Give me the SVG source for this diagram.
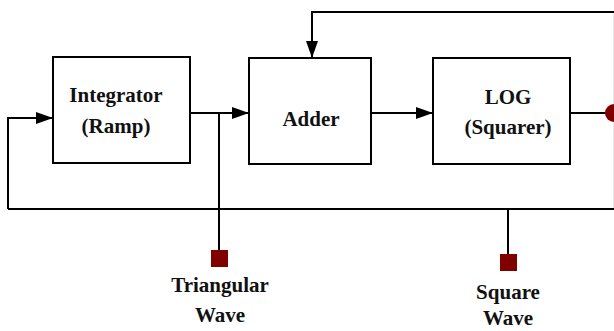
<svg xmlns="http://www.w3.org/2000/svg" width="614" height="331" viewBox="0 0 614 331">
<style>
.box{fill:#fff;stroke:#000;stroke-width:2}
.ln{fill:none;stroke:#000;stroke-width:2}
.t{font-family:"Liberation Serif","Times New Roman",serif;font-weight:bold;font-size:21px;text-anchor:middle;fill:#111}
.port{fill:#800000}
</style>
<defs>
<marker id="ah" markerWidth="17" markerHeight="12" refX="17" refY="6" orient="auto" markerUnits="userSpaceOnUse">
<path d="M0,0 L17,6 L0,12 Z" fill="#000"/>
</marker>
</defs>
<rect width="614" height="331" fill="#fff"/>
<g id="connectors">
<path class="ln" d="M190,113 L249,113" marker-end="url(#ah)"/>
<path class="ln" d="M371,113 L433,113" marker-end="url(#ah)"/>
<path class="ln" d="M570,113 L606,113"/>
<path class="ln" d="M219,113 L219,251"/>
<path class="ln" d="M8,209 L616,209"/>
<path class="ln" d="M8,209 L8,118 L53,118" marker-end="url(#ah)"/>
<path class="ln" d="M616,12 L312,12 L312,58" marker-end="url(#ah)"/>
<path fill="none" stroke="#000" stroke-width="1.5" stroke-opacity="0.5" d="M614.6,12 L614.6,209"/>
<path class="ln" d="M508,209 L508,255"/>
</g>
<g id="integrator">
<rect class="box" x="53" y="57" width="137" height="106"/>
<text class="t" x="116" y="102">Integrator</text>
<text class="t" x="116" y="133">(Ramp)</text>
</g>
<g id="adder">
<rect class="box" x="249" y="58" width="122" height="106"/>
<text class="t" x="311" y="126">Adder</text>
</g>
<g id="log">
<rect class="box" x="433" y="58" width="137" height="106"/>
<text class="t" x="508" y="104">LOG</text>
<text class="t" x="508" y="134">(Squarer)</text>
</g>
<g id="output">
<circle class="port" cx="614" cy="113" r="9"/>
</g>
<g id="triangular">
<rect class="port" x="211" y="250" width="17" height="17"/>
<text class="t" x="220" y="292">Triangular</text>
<text class="t" x="220" y="322">Wave</text>
</g>
<g id="square">
<rect class="port" x="500" y="254" width="17" height="17"/>
<text class="t" x="508" y="299">Square</text>
<text class="t" x="508" y="325">Wave</text>
</g>
</svg>
